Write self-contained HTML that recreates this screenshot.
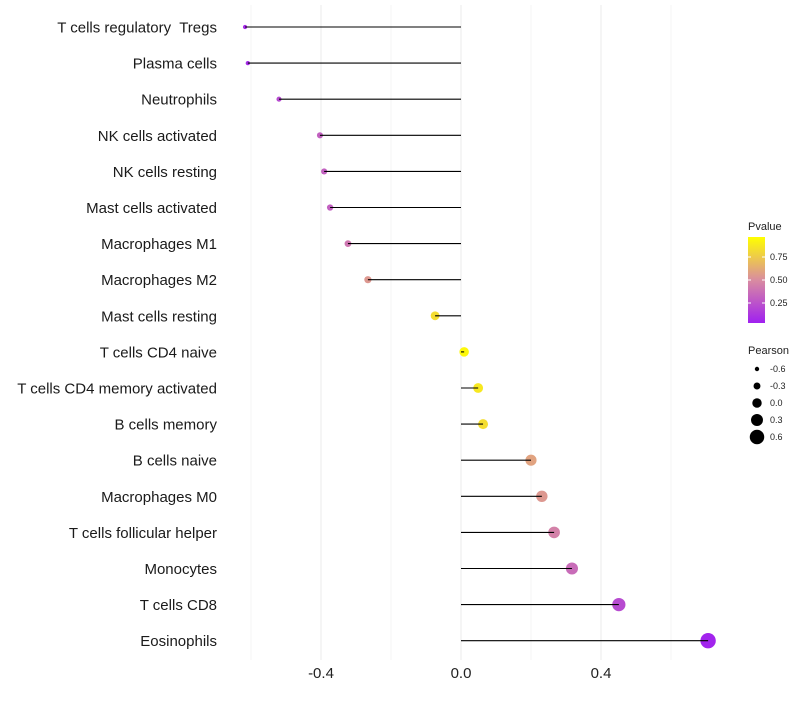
<!DOCTYPE html>
<html><head><meta charset="utf-8"><style>
body{margin:0;background:#fff;font-family:"Liberation Sans",sans-serif}
svg text{font-family:"Liberation Sans",sans-serif;white-space:pre}
</style></head><body>
<svg id="c" width="800" height="700"></svg>
<script>
const categories=["T cells regulatory  Tregs","Plasma cells","Neutrophils","NK cells activated","NK cells resting","Mast cells activated","Macrophages M1","Macrophages M2","Mast cells resting","T cells CD4 naive","T cells CD4 memory activated","B cells memory","B cells naive","Macrophages M0","T cells follicular helper","Monocytes","T cells CD8","Eosinophils"];
const pearson=[-0.617,-0.609,-0.52,-0.403,-0.391,-0.374,-0.323,-0.266,-0.074,0.009,0.049,0.063,0.2,0.231,0.266,0.317,0.451,0.706];
const pvalues=[0.05,0.05,0.2,0.3,0.3,0.3,0.4,0.55,0.85,0.97,0.9,0.85,0.6,0.55,0.45,0.35,0.2,0.02];
const xTicks=[-0.4,0.0,0.4];
const pTicks=[0.25,0.5,0.75];
const sizeTicks=[-0.6,-0.3,0.0,0.3,0.6];

const NS="http://www.w3.org/2000/svg";
const svg=document.getElementById('c');
function mk(t,a,p){const e=document.createElementNS(NS,t);for(const k in a)e.setAttribute(k,a[k]);(p||svg).appendChild(e);return e;}
const x=v=>461+v*350;
const y=i=>27+i*36.1;
const r=v=>2.2+(v+0.6)*4.2;
function col(p){
 const s=[[0,[160,32,240]],[0.5,[217,140,160]],[1,[255,255,0]]];
 let a=s[0],b=s[1];if(p>0.5){a=s[1];b=s[2];}
 const t=(p-a[0])/(b[0]-a[0]);
 const c=a[1].map((v,i)=>Math.round(v+(b[1][i]-v)*t));
 return `rgb(${c})`;}
[-0.6,-0.4,-0.2,0,0.2,0.4,0.6].forEach(v=>{
 const g=mk('line',{x1:x(v),x2:x(v),y1:5,y2:660,stroke:Math.abs(v*10)%4===0?'#ebebeb':'#f4f4f4','stroke-width':1});
 
 
});
xTicks.forEach(v=>{
 const t=mk('text',{x:x(v),y:678,'text-anchor':'middle','font-size':15,fill:'#222'});
 t.textContent=v.toFixed(1);
 
 
});
categories.forEach((c,i)=>{
 const t=mk('text',{x:217,y:y(i)+5.5,'text-anchor':'end','font-size':15,fill:'#1a1a1a'});
 t.textContent=c;
 
 
 const pt=mk('circle',{cx:x(pearson[i]),cy:y(i),r:r(pearson[i]),fill:col(pvalues[i])});
 
 
 const l=mk('line',{x1:x(0),x2:x(pearson[i]),y1:y(i),y2:y(i),stroke:'#000','stroke-width':1.1});
 
 
});
const defs=mk('defs',{});
const lg=mk('linearGradient',{id:'g',x1:0,y1:1,x2:0,y2:0},defs);
[0,0.25,0.5,0.75,1].forEach(p=>mk('stop',{offset:p,'stop-color':col(p)},lg));
const lt=mk('text',{x:748,y:230,'font-size':11,fill:'#222'});lt.textContent='Pvalue';


const py=p=>326-p*92;
const bar=mk('rect',{x:748,y:237,width:17,height:86,fill:'url(#g)'});


pTicks.forEach(p=>{
 mk('line',{x1:748,x2:751,y1:py(p),y2:py(p),stroke:'#fff'});
 mk('line',{x1:762,x2:765,y1:py(p),y2:py(p),stroke:'#fff'});
 const t=mk('text',{x:770,y:py(p)+3,'font-size':9,fill:'#222'});t.textContent=p.toFixed(2);
 
 
});
const st=mk('text',{x:748,y:354,'font-size':11,fill:'#222'});st.textContent='Pearson';


sizeTicks.forEach((v,i)=>{
 const cy=369+i*17;
 const c=mk('circle',{cx:757,cy:cy,r:r(v),fill:'#000'});
 
 
 const t=mk('text',{x:770,y:cy+3,'font-size':9,fill:'#222'});t.textContent=v.toFixed(1);
 
 
});
</script>
</body></html>
